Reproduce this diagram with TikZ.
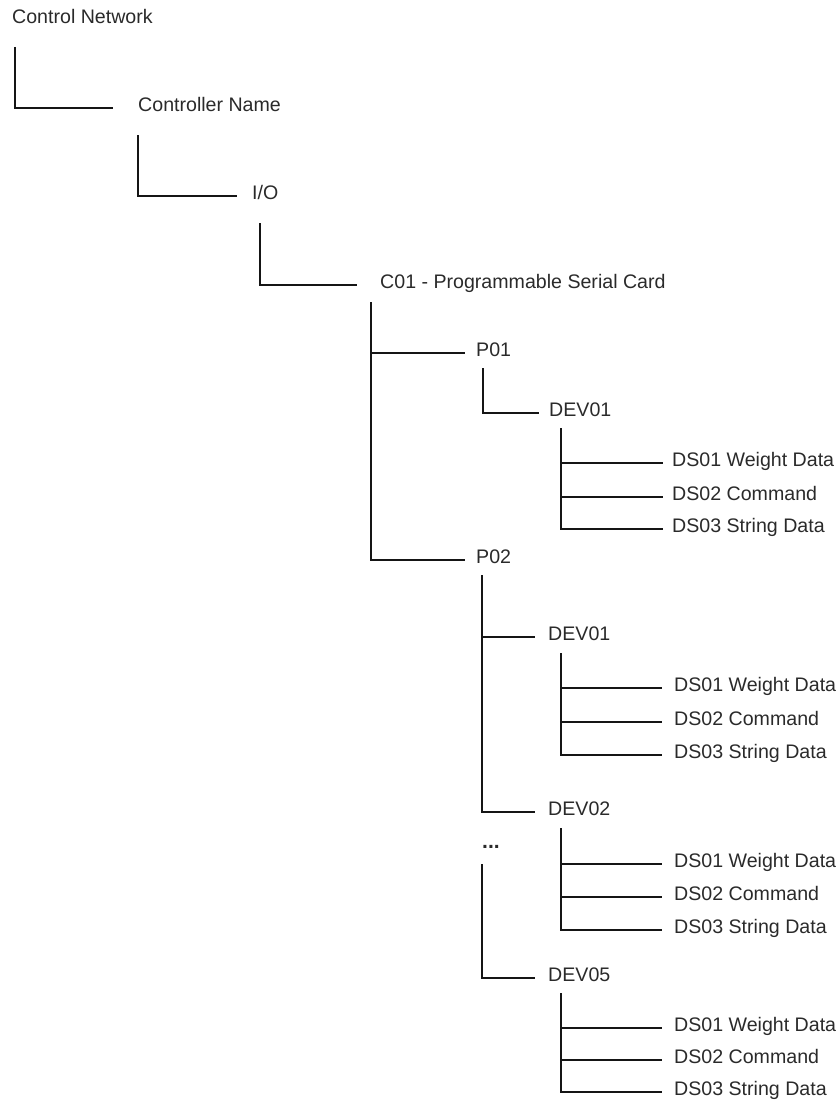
\documentclass[tikz,border=0pt]{standalone}
\usepackage{fontspec}
\setmainfont{Liberation Sans}
\usepackage{xcolor}
\definecolor{TreeInk} {HTML}{2A2A2A}
\definecolor{TreeLine}{HTML}{151515}
\usetikzlibrary{calc}

\begin{document}
\begin{tikzpicture}[x=1pt,y=-1pt,
  item/.style={anchor=west,inner sep=0pt,text height=0.716em,
    text depth=0pt,font=\fontsize{19.6}{23}\selectfont,text=TreeInk},
  wire/.style={draw=TreeLine,line width=1.4pt}]
  \useasboundingbox (0,0) rectangle (840,1108);
  % Upper levels
  \node[item] (net)  at (12,20)  {Control Network};
  \node[item] (ctrl) at (138,108) {Controller Name};
  \node[item] (io)   at (252,196) {I/O};
  \node[item] (card) at (380,285) {C01 - Programmable Serial Card};
  % Port P01
  \node[item] (p1)   at (476,353) {P01};
  \node[item] (p1d1) at (549,413) {DEV01};
  \node[item] (p1d1a) at (672,463) {DS01 Weight Data};
  \node[item] (p1d1b) at (672,497) {DS02 Command};
  \node[item] (p1d1c) at (672,529) {DS03 String Data};
  % Port P02
  \node[item] (p2)   at (476,560) {P02};
  \node[item] (p2d1) at (548,637) {DEV01};
  \node[item] (p2d1a) at (674,688) {DS01 Weight Data};
  \node[item] (p2d1b) at (674,722) {DS02 Command};
  \node[item] (p2d1c) at (674,755) {DS03 String Data};
  \node[item] (p2d2) at (548,812) {DEV02};
  \node[item] (p2d2a) at (674,864) {DS01 Weight Data};
  \node[item] (p2d2b) at (674,897) {DS02 Command};
  \node[item] (p2d2c) at (674,930) {DS03 String Data};
  \node[anchor=base west,inner sep=0pt,font=\fontsize{21}{23}\bfseries,
    text=TreeInk] (more) at (482,848) {...};
  \node[item] (p2d5) at (548,978) {DEV05};
  \node[item] (p2d5a) at (674,1028) {DS01 Weight Data};
  \node[item] (p2d5b) at (674,1060) {DS02 Command};
  \node[item] (p2d5c) at (674,1092) {DS03 String Data};
  % Trunk tops
  \coordinate (netT)  at (15,47);
  \coordinate (ctrlT) at (138,135);
  \coordinate (ioT)   at (260,223);
  \coordinate (cardT) at (371,302);
  \coordinate (p1T)   at (483,368);
  \coordinate (p1d1T) at (561,428);
  \coordinate (p2T)   at (482,575);
  \coordinate (p2S)   at (482,864);
  \coordinate (p2d1T) at (561,653);
  \coordinate (p2d2T) at (561,828);
  \coordinate (p2d5T) at (561,993);
  % Connectors
  \draw[wire] (netT)  |- ($(ctrl.west)+(-25,0)$);
  \draw[wire] (ctrlT) |- ($(io.west)+(-15,0)$);
  \draw[wire] (ioT)   |- ($(card.west)+(-23,0)$);
  \draw[wire] (cardT) |- ($(p2.west)+(-11,0)$);
  \draw[wire] (cardT |- p1.west) -- ($(p1.west)+(-11,0)$);
  \draw[wire] (p1T)   |- ($(p1d1.west)+(-10,0)$);
  \draw[wire] (p1d1T) |- ($(p1d1c.west)+(-9,0)$);
  \draw[wire] (p1d1T |- p1d1a.west) -- ($(p1d1a.west)+(-9,0)$);
  \draw[wire] (p1d1T |- p1d1b.west) -- ($(p1d1b.west)+(-9,0)$);
  \draw[wire] (p2T)   |- ($(p2d2.west)+(-13,0)$);
  \draw[wire] (p2T |- p2d1.west) -- ($(p2d1.west)+(-13,0)$);
  \draw[wire] (p2S)   |- ($(p2d5.west)+(-13,0)$);
  \draw[wire] (p2d1T) |- ($(p2d1c.west)+(-12,0)$);
  \draw[wire] (p2d1T |- p2d1a.west) -- ($(p2d1a.west)+(-12,0)$);
  \draw[wire] (p2d1T |- p2d1b.west) -- ($(p2d1b.west)+(-12,0)$);
  \draw[wire] (p2d2T) |- ($(p2d2c.west)+(-12,0)$);
  \draw[wire] (p2d2T |- p2d2a.west) -- ($(p2d2a.west)+(-12,0)$);
  \draw[wire] (p2d2T |- p2d2b.west) -- ($(p2d2b.west)+(-12,0)$);
  \draw[wire] (p2d5T) |- ($(p2d5c.west)+(-12,0)$);
  \draw[wire] (p2d5T |- p2d5a.west) -- ($(p2d5a.west)+(-12,0)$);
  \draw[wire] (p2d5T |- p2d5b.west) -- ($(p2d5b.west)+(-12,0)$);
\end{tikzpicture}
\end{document}
